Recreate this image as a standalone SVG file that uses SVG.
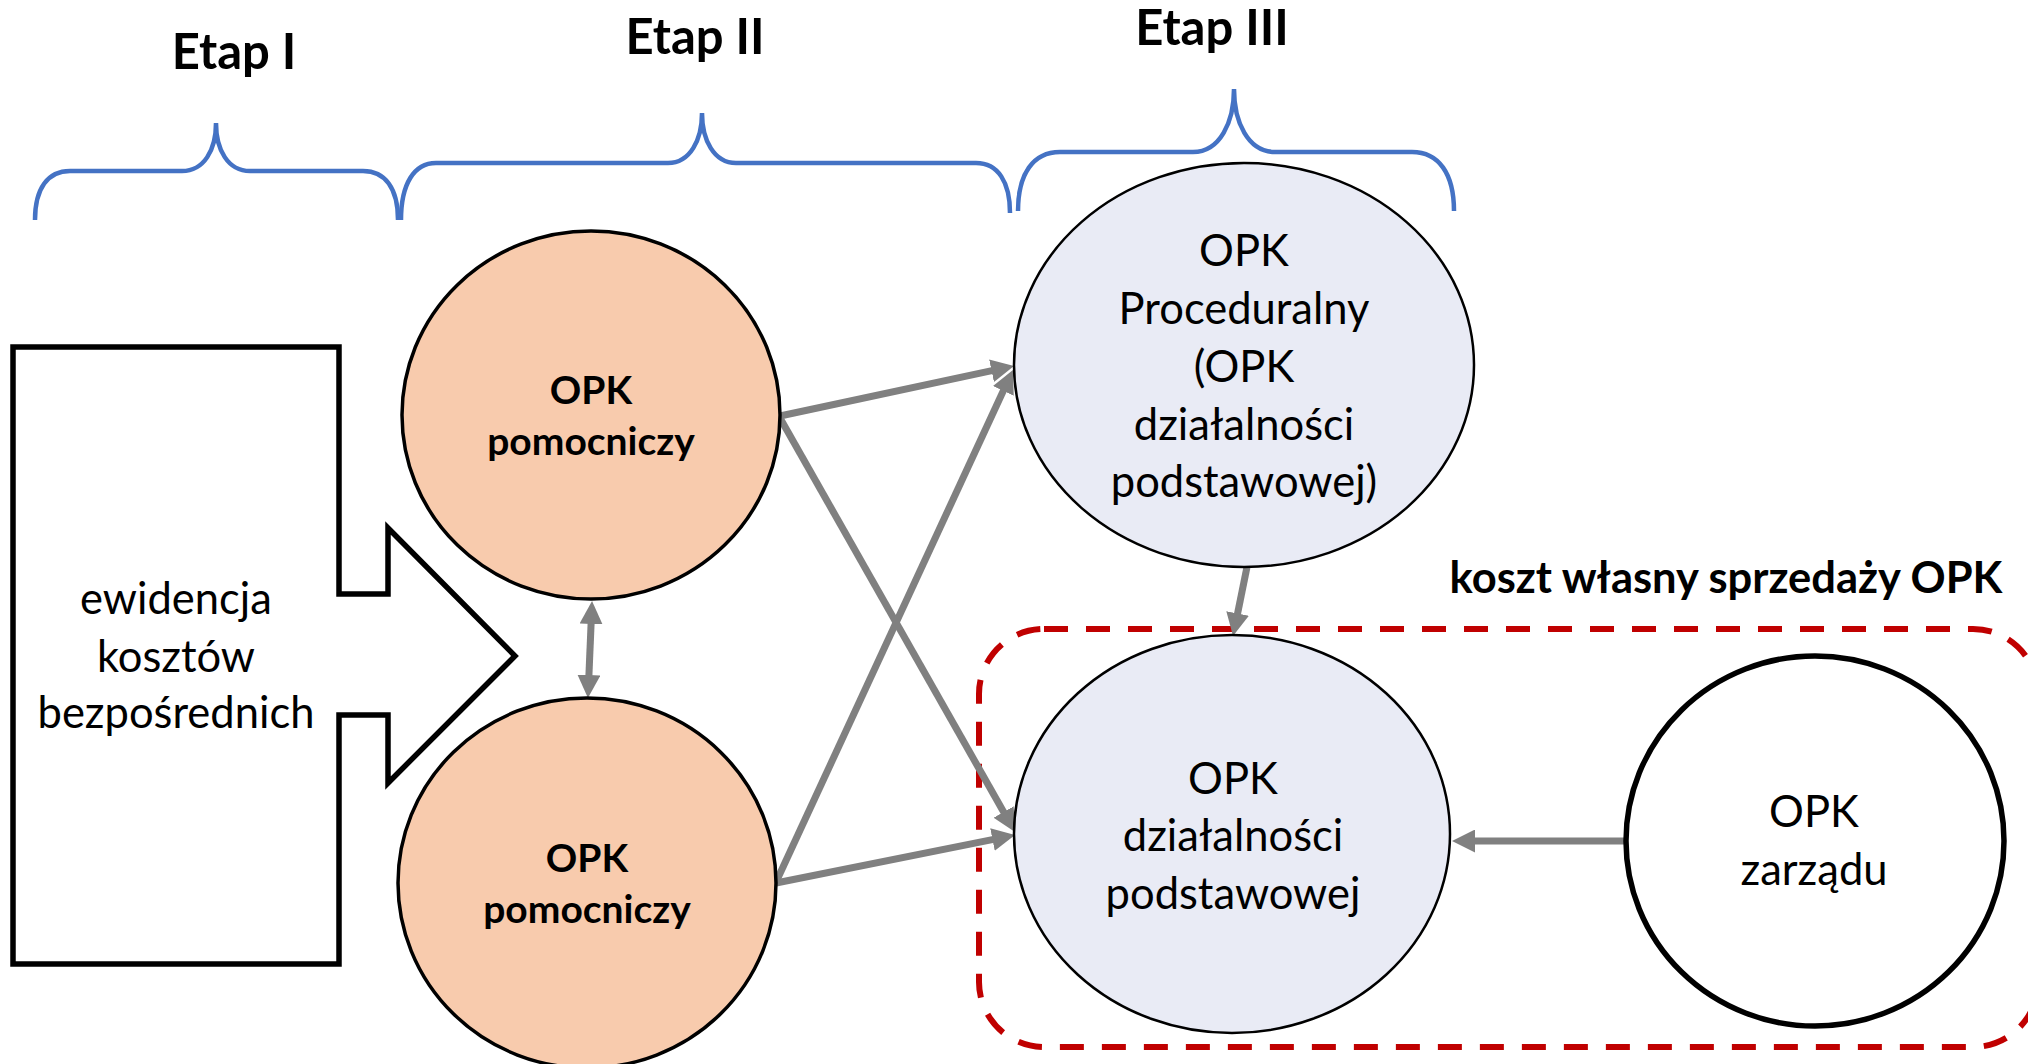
<svg xmlns="http://www.w3.org/2000/svg" width="2028" height="1064" viewBox="0 0 2028 1064">
<defs>
<style>
.t{font-family:Lato,"Liberation Sans",sans-serif;fill:#000;text-anchor:middle}
.b{font-weight:bold}
.brace{fill:none;stroke:#4472C4;stroke-width:4.5}
.conn{stroke:#808080;stroke-width:7;fill:none}
.orange{fill:#F8CBAD;stroke:#000;stroke-width:3.5}
.blue{fill:#E9EBF5;stroke:#000;stroke-width:2.5}
</style>
<marker id="ah" markerUnits="userSpaceOnUse" markerWidth="23" markerHeight="23" refX="10" refY="11.5" orient="auto-start-reverse">
<path d="M0,0 L23,11.5 L0,23 z" fill="#808080"/>
</marker>
</defs>
<rect width="2028" height="1064" fill="#fff"/>

<g id="etap1">
<path class="brace" d="M 35 220 C 35 188 48 171 70 171 L 182 171 C 204 171 216 150 216 123 C 216 150 228 171 250 171 L 363 171 C 385 171 398 188 398 220"/>
<text class="t b" x="234" y="69" font-size="49">Etap I</text>
</g>
<g id="etap2">
<path class="brace" d="M 401 220 C 401 184 414 163 436 163 L 668 163 C 690 163 702 140 702 113 C 702 140 714 163 736 163 L 976 163 C 998 163 1010 182 1010 213"/>
<text class="t b" x="695" y="54" font-size="49">Etap II</text>
</g>
<g id="etap3">
<path class="brace" d="M 1018 211 C 1018 174 1033 152 1060 152 L 1193 152 C 1220 152 1234 122 1234 89 C 1234 122 1248 152 1275 152 L 1412 152 C 1439 152 1454 174 1454 211"/>
<text class="t b" x="1212" y="45" font-size="49">Etap III</text>
</g>

<g id="ewidencja">
<path d="M13,347 L339,347 L339,594 L388,594 L388,528 L515,656 L388,783 L388,715 L339,715 L339,964 L13,964 Z" fill="#fff" stroke="#000" stroke-width="5.5"/>
<text class="t" x="176" font-size="43.5"><tspan x="176" y="614">ewidencja</tspan><tspan x="176" y="672">kosztów</tspan><tspan x="176" y="728">bezpośrednich</tspan></text>
</g>

<g id="koszt-wlasny">
<rect x="979" y="629" width="1059" height="418" rx="65" ry="65" fill="none" stroke="#C00000" stroke-width="6" stroke-dasharray="24 18"/>
<text class="t b" x="1726" y="593" font-size="43.5">koszt własny sprzedaży OPK</text>
</g>

<g id="connectors">
<line class="conn" x1="780" y1="416" x2="1001.3" y2="368.7" marker-end="url(#ah)"/>
<line class="conn" x1="780" y1="418" x2="1008.6" y2="820.7" marker-end="url(#ah)"/>
<line class="conn" x1="777" y1="880" x2="1007.5" y2="381.8" marker-end="url(#ah)"/>
<line class="conn" x1="776" y1="883" x2="1002.3" y2="837.6" marker-end="url(#ah)"/>
<line class="conn" x1="591.5" y1="614" x2="588.5" y2="685" marker-start="url(#ah)" marker-end="url(#ah)"/>
<line class="conn" x1="1247" y1="567" x2="1235.6" y2="623.3" marker-end="url(#ah)"/>
<line class="conn" x1="1625" y1="841" x2="1465" y2="841" marker-end="url(#ah)"/>
</g>

<g id="opk-pomocniczy-1">
<ellipse class="orange" cx="591" cy="415" rx="189" ry="184"/>
<text class="t b" font-size="39"><tspan x="591" y="404">OPK</tspan><tspan x="591" y="455">pomocniczy</tspan></text>
</g>
<g id="opk-pomocniczy-2">
<ellipse class="orange" cx="587" cy="883" rx="189" ry="185"/>
<text class="t b" font-size="39"><tspan x="587" y="872">OPK</tspan><tspan x="587" y="923">pomocniczy</tspan></text>
</g>

<g id="opk-proceduralny">
<ellipse class="blue" cx="1244" cy="365" rx="230" ry="202"/>
<text class="t" font-size="43.5"><tspan x="1244" y="266">OPK</tspan><tspan x="1244" y="324">Proceduralny</tspan><tspan x="1244" y="382">(OPK</tspan><tspan x="1244" y="440">działalności</tspan><tspan x="1244" y="497">podstawowej)</tspan></text>
</g>

<g id="opk-dzialalnosci-podstawowej">
<ellipse class="blue" cx="1232" cy="834" rx="218" ry="199"/>
<text class="t" font-size="43.5"><tspan x="1233" y="794">OPK</tspan><tspan x="1233" y="851">działalności</tspan><tspan x="1233" y="909">podstawowej</tspan></text>
</g>

<g id="opk-zarzadu">
<ellipse cx="1815" cy="841" rx="189" ry="185" fill="#fff" stroke="#000" stroke-width="5.5"/>
<text class="t" font-size="43.5"><tspan x="1814" y="827">OPK</tspan><tspan x="1814" y="885">zarządu</tspan></text>
</g>
</svg>
